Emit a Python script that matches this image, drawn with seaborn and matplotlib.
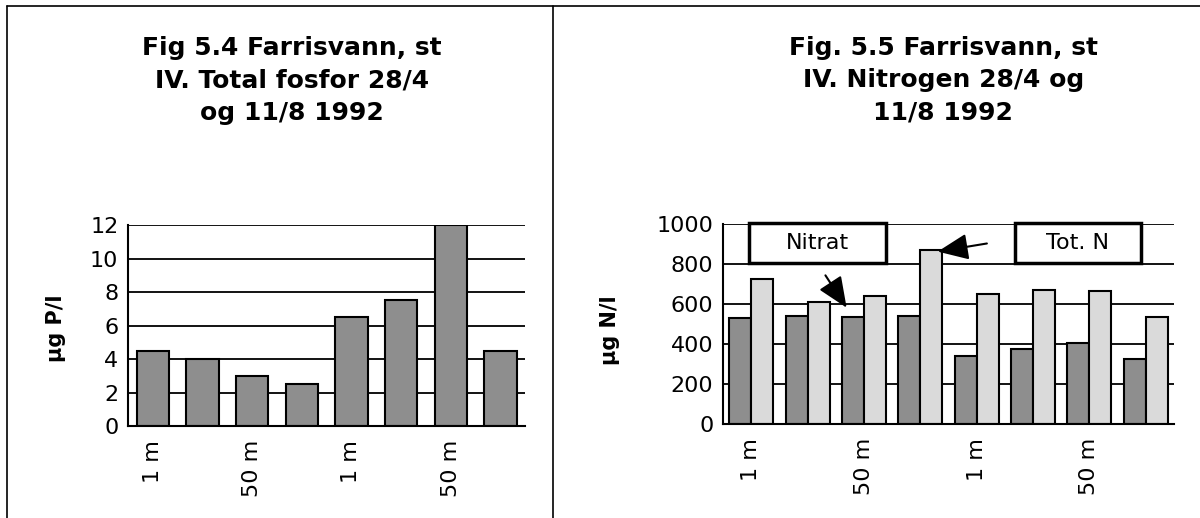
import pandas as pd
import matplotlib.pyplot as plt
import seaborn as sns
from matplotlib.lines import Line2D
from matplotlib.patches import Rectangle

# values (st IV, 28/4 and 11/8 1992)
samples = list(range(8))
depth_labels = ["1 m", "", "50 m", "", "1 m", "", "50 m", ""]
fosfor = [4.5, 4.0, 3.0, 2.5, 6.5, 7.5, 12.0, 4.5]
nitrat = [530, 540, 535, 540, 340, 375, 405, 325]
tot_n = [725, 610, 640, 872, 648, 668, 665, 537]
series = ["Nitrat", "Tot. N"]

title_p = "Fig 5.4 Farrisvann, st\nIV. Total fosfor 28/4\nog 11/8 1992"
title_n = "Fig. 5.5 Farrisvann, st\nIV. Nitrogen 28/4 og\n11/8 1992"

dark = "#8e8e8e"
light = "#dadada"

sns.set_style("white")
plt.rcParams["font.family"] = ["DejaVu Sans"]
plt.rcParams["text.color"] = "black"
plt.rcParams["xtick.color"] = "black"
plt.rcParams["ytick.color"] = "black"
plt.rcParams["axes.labelcolor"] = "black"

df_n = pd.DataFrame({
    "sample": samples * 2,
    "value": nitrat + tot_n,
    "serie": [series[0]] * 8 + [series[1]] * 8,
})

fig = plt.figure(figsize=(12, 5.18), dpi=100)
ax1 = fig.add_axes([0.1067, 0.1776, 0.331, 0.388])
ax2 = fig.add_axes([0.6025, 0.1815, 0.3758, 0.386])

sns.barplot(x=samples, y=fosfor, color=dark, width=0.65,
            edgecolor="black", linewidth=1.5, saturation=1, ax=ax1)
sns.barplot(data=df_n, x="sample", y="value", hue="serie",
            palette={series[0]: dark, series[1]: light}, width=0.78,
            edgecolor="black", linewidth=1.5, saturation=1, legend=False, ax=ax2)

for ax, ymax, step in [(ax1, 12, 2), (ax2, 1000, 200)]:
    ax.set_xlim(-0.5, 7.5)
    ax.set_ylim(0, ymax)
    ax.set_yticks(range(0, ymax + 1, step))
    ax.set_xticks(samples)
    ax.set_xticklabels(depth_labels, rotation=90, fontsize=16)
    ax.set_xticks([i - 0.5 for i in range(9)], minor=True)
    ax.tick_params(axis="x", which="major", length=0, pad=10)
    ax.tick_params(axis="x", which="minor", length=9, width=1.3,
                   direction="inout", color="black")
    ax.tick_params(axis="y", length=10, width=1.3, direction="inout",
                   labelsize=16, pad=2, color="black", labelcolor="black")
    ax.tick_params(axis="x", labelcolor="black")
    ax.yaxis.grid(True, color="black", lw=1.3)
    ax.set_axisbelow(True)
    ax.set_xlabel("")
    ax.set_ylabel("")
    for s in ["top", "right"]:
        ax.spines[s].set_visible(False)
    for s in ["left", "bottom"]:
        ax.spines[s].set_color("black")
        ax.spines[s].set_linewidth(1.5)

# annotation boxes and arrows on the nitrogen chart
for label, x0, x1 in [(series[0], -0.04, 2.39), (series[1], 4.68, 6.91)]:
    ax2.add_patch(Rectangle((x0, 805), x1 - x0, 200, facecolor="white",
                            edgecolor="black", lw=2.5, clip_on=False, zorder=5))
    ax2.text((x0 + x1) / 2, 905, label, ha="center", va="center",
             fontsize=16, zorder=6)

arrow = dict(arrowstyle="-|>,head_length=0.7,head_width=0.3",
             mutation_scale=27, color="black", lw=1.5)
ax2.annotate("", xy=(1.72, 570), xytext=(1.29, 755), arrowprops=arrow,
             annotation_clip=False, zorder=7)
ax2.annotate("", xy=(3.26, 860), xytext=(4.23, 905), arrowprops=arrow,
             annotation_clip=False, zorder=7)

# titles and axis labels
fig.text(0.243, 0.845, title_p, ha="center", va="center", fontsize=18,
         fontweight="bold", linespacing=1.45)
fig.text(0.786, 0.845, title_n, ha="center", va="center", fontsize=18,
         fontweight="bold", linespacing=1.45)
fig.text(0.047, 0.367, "µg P/l", rotation=90, ha="center", va="center",
         fontsize=15, fontweight="bold")
fig.text(0.508, 0.363, "µg N/l", rotation=90, ha="center", va="center",
         fontsize=15, fontweight="bold")

# frames around the two figures
top = 1 - 6 / 518
fig.add_artist(Line2D([7 / 1200, 1.0], [top, top], color="black", lw=1.2))
fig.add_artist(Line2D([7 / 1200, 7 / 1200], [0, top], color="black", lw=1.2))
fig.add_artist(Line2D([553 / 1200, 553 / 1200], [0, top], color="black", lw=1.2))

fig.savefig("out.png", dpi=100, facecolor="white")
